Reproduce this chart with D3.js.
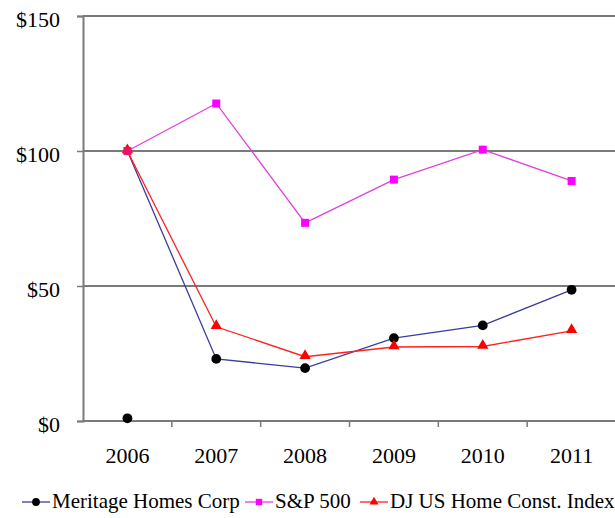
<!DOCTYPE html>
<html>
<head>
<meta charset="utf-8">
<script src="https://cdn.jsdelivr.net/npm/d3@7"></script>
<style>
  html, body { margin: 0; padding: 0; background: #fff; }
  svg { display: block; }
  text { font-family: "Liberation Serif", "Times New Roman", serif; fill: #000; }
</style>
</head>
<body>
<svg id="chart" width="615" height="518"></svg>
<script>
const years = ["2006", "2007", "2008", "2009", "2010", "2011"];
const meritageLine = [100, 23.0, 19.6, 30.7, 35.4, 48.6];
const meritageMarkers = [1.0, 23.0, 19.6, 30.7, 35.4, 48.6];
const sp500 = [100, 117.6, 73.4, 89.4, 100.5, 88.9];
const djHome = [100, 34.9, 23.8, 27.4, 27.6, 33.4];
const yTicks = [0, 50, 100, 150];
const legendLabels = ["Meritage Homes Corp", "S&P 500", "DJ US Home Const. Index"];

const svg = d3.select("#chart");
const mLeft = 83, mRight = 616, mTop = 16, mBottom = 421;

const x = d3.scaleBand().domain(years).range([mLeft, mRight]).padding(0);
const y = d3.scaleLinear().domain([0, 150]).range([mBottom, mTop]);
const cx = d => x(d) + x.bandwidth() / 2;

// gridlines
svg.append("g")
  .selectAll("line")
  .data(yTicks.filter(v => v > 0))
  .join("line")
  .attr("x1", mLeft).attr("x2", 615)
  .attr("y1", d => y(d)).attr("y2", d => y(d))
  .attr("stroke", "#7a7a7a").attr("stroke-width", 2);

// y axis
const yAxis = svg.append("g")
  .attr("transform", `translate(${mLeft},0)`)
  .call(d3.axisLeft(y).tickValues(yTicks).tickFormat(d => "$" + d).tickSize(6).tickPadding(17));
yAxis.select(".domain").attr("stroke", "#7a7a7a").attr("stroke-width", 2);
yAxis.selectAll(".tick line").attr("stroke", "#7a7a7a").attr("stroke-width", 1.5);
yAxis.selectAll("text").attr("font-size", 22).attr("font-family", "Liberation Serif")
  .attr("dy", 0).attr("y", 10.5).attr("fill", "#222");

// x axis
const xAxis = svg.append("g")
  .attr("transform", `translate(0,${mBottom})`)
  .call(d3.axisBottom(x).tickSize(0).tickPadding(0));
xAxis.select(".domain").attr("d", `M${mLeft},0H615`).attr("stroke", "#7a7a7a").attr("stroke-width", 2);
xAxis.selectAll("text").attr("font-size", 22).attr("font-family", "Liberation Serif")
  .attr("y", 42).attr("dy", 0).attr("fill", "#222");
xAxis.append("g").selectAll("line")
  .data(years.slice(1))
  .join("line")
  .attr("x1", d => x(d)).attr("x2", d => x(d))
  .attr("y1", 0).attr("y2", 6)
  .attr("stroke", "#7a7a7a").attr("stroke-width", 1.5);

const line = d3.line().x((d, i) => cx(years[i])).y(d => y(d));

svg.append("path").datum(meritageLine).attr("d", line)
  .attr("fill", "none").attr("stroke", "#3c3c9c").attr("stroke-width", 1.3);
svg.append("path").datum(djHome).attr("d", line)
  .attr("fill", "none").attr("stroke", "#ff2020").attr("stroke-width", 1.3);
svg.append("path").datum(sp500).attr("d", line)
  .attr("fill", "none").attr("stroke", "#e040e0").attr("stroke-width", 1.3);

const circ = d3.symbol().type(d3.symbolCircle).size(75);
const sq = d3.symbol().type(d3.symbolSquare).size(64);
const tri = d3.symbol().type(d3.symbolTriangle).size(55);

svg.append("g").selectAll("path").data(meritageMarkers).join("path")
  .attr("d", circ).attr("transform", (d, i) => `translate(${cx(years[i])},${y(d)})`)
  .attr("fill", "#000");
svg.append("g").selectAll("path").data(djHome).join("path")
  .attr("d", tri).attr("transform", (d, i) => `translate(${cx(years[i])},${y(d) - 1})`)
  .attr("fill", "#ff0000");
svg.append("g").selectAll("path").data(sp500).join("path")
  .attr("d", sq).attr("transform", (d, i) => `translate(${cx(years[i])},${y(d)})`)
  .attr("fill", (d, i) => i === 0 ? "#f0106a" : "#ff00ff");

// legend
const legendItems = [
  { label: legendLabels[0], x0: 22, color: "#3c3c9c", mcolor: "#000", sym: circ },
  { label: legendLabels[1], x0: 245, color: "#e040e0", mcolor: "#ff00ff", sym: sq },
  { label: legendLabels[2], x0: 360, color: "#ff2020", mcolor: "#ff0000", sym: tri }
];
const ly = 502;
const lg = svg.append("g");
legendItems.forEach(it => {
  lg.append("line").attr("x1", it.x0).attr("x2", it.x0 + 28)
    .attr("y1", ly).attr("y2", ly).attr("stroke", it.color).attr("stroke-width", 1.3);
  lg.append("path").attr("d", it.sym)
    .attr("fill", it.mcolor).attr("transform", `translate(${it.x0 + 14},${ly}) scale(0.8)`);
  lg.append("text").attr("x", it.x0 + 30).attr("y", ly + 6)
    .attr("font-size", 21).attr("fill", "#222").text(it.label);
});
</script>
</body>
</html>
